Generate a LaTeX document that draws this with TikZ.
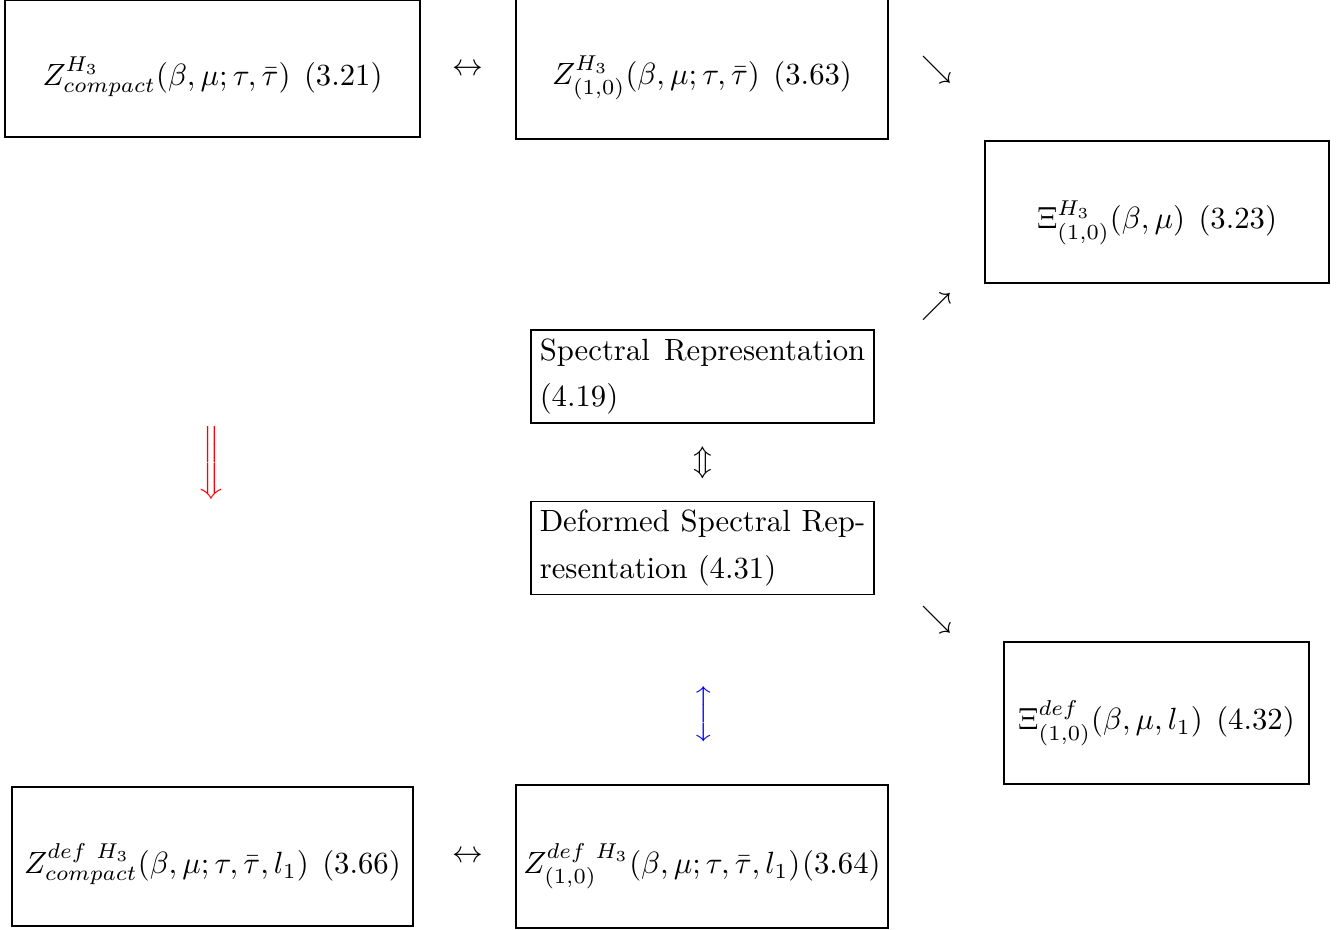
\documentclass[tikz,border=0pt]{standalone}
\usepackage{amsmath}
\begin{document}
\begin{tikzpicture}[x=0.3257pt, y=-0.3257pt,
  mbox/.style 2 args={draw, line width=0.4pt, inner sep=0pt,
    minimum width=#1*0.3257pt, minimum height=#2*0.3257pt, align=center,
    text height=14pt, text depth=3pt},
  pbox/.style={draw, line width=0.4pt, inner xsep=2.85pt, inner ysep=0pt,
    text width=106pt, align=justify, minimum height=93*0.3257pt,
    font=\fontsize{10pt}{15pt}\selectfont},
  glyph/.style={inner sep=0pt}]
\useasboundingbox (0,0) rectangle (1340,930);

% boxes
\node[mbox={415}{137}] (zc) at (212.5,68.5)
  {$Z^{H_3}_{compact}(\beta,\mu;\tau,\bar\tau)$\hspace{4.4pt}(3.21)};
\node[mbox={372}{143}] (z10) at (702,67.5)
  {$Z^{H_3}_{(1,0)}(\beta,\mu;\tau,\bar\tau)$\hspace{4.4pt}(3.63)};
\node[mbox={344}{142}] (xi) at (1157,212)
  {$\Xi^{H_3}_{(1,0)}(\beta,\mu)$\hspace{4.4pt}(3.23)};
\node[pbox] (spec) at (702.5,376.5)
  {Spectral Representation\linebreak (4.19)};
\node[pbox] (dspec) at (702.5,548)
  {Deformed Spectral Rep-\linebreak resentation (4.31)};
\node[mbox={305}{142}] (xidef) at (1156.5,713)
  {$\Xi^{def}_{(1,0)}(\beta,\mu,l_1)$\hspace{4.4pt}(4.32)};
\node[mbox={401}{139}] (zcdef) at (212.5,856.5)
  {$Z^{def\ H_3}_{compact}(\beta,\mu;\tau,\bar\tau,l_1)$\hspace{4.4pt}(3.66)};
\node[mbox={372}{143}] (z10def) at (702,856.5)
  {$Z^{def\ H_3}_{(1,0)}(\beta,\mu;\tau,\bar\tau,l_1)$\hspace{0.6pt}(3.64)};

% arrow glyphs
\node[glyph] (a1) at (468,70) {$\leftrightarrow$};
\node[glyph] (a2) at (937,70) {$\searrow$};
\node[glyph] (a3) at (937,307) {$\nearrow$};
\node[glyph] (a4) at (703,463) {$\Updownarrow$};
\node[glyph] (a5) at (937,620) {$\searrow$};
\node[glyph] (a6) at (468,857) {$\leftrightarrow$};
\node[glyph, text=red] (a7) at (213,463)
  {$\left\Downarrow\rule[-10pt]{0pt}{25pt}\right.$};
\node[glyph, text=blue] (a8) at (706,714)
  {$\left\updownarrow\rule[-7pt]{0pt}{19pt}\right.$};
\end{tikzpicture}
\end{document}
